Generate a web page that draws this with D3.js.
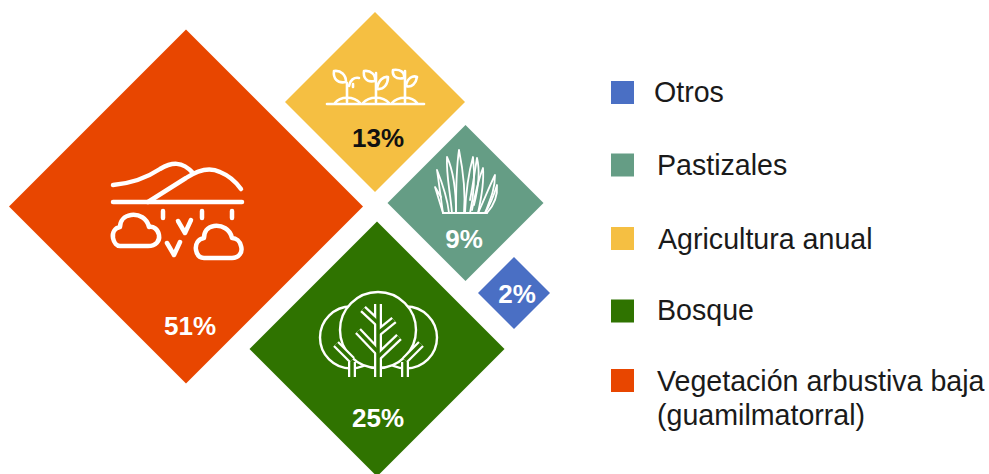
<!DOCTYPE html>
<html><head><meta charset="utf-8">
<script src="https://cdnjs.cloudflare.com/ajax/libs/d3/7.8.5/d3.min.js"></script>
<style>html,body{margin:0;padding:0;background:#fff}svg{display:block}text{font-family:"Liberation Sans",Arial,sans-serif}</style>
</head><body><svg id="c" width="989" height="474"></svg>
<script>
// DATA
const categories = ["Otros","Pastizales","Agricultura anual","Bosque","Vegetación arbustiva baja\n(guamilmatorral)"];
const values = [2,9,13,25,51];
const colors = ["#4A6FC4","#659D85","#F5BF42","#2F7300","#E84600"];
const labelColors = ["#fff","#fff","#111","#fff","#fff"];

// LAYOUT (arrangement units, 0-1 of the page, then mapped with scales)
const W=989,H=474;
const xPos = d3.scaleLinear().domain([0,1]).range([0,W]);
const yPos = d3.scaleLinear().domain([0,1]).range([0,H]);
const cxU = [514/W,465.5/W,375/W,377/W,186/W];
const cyU = [293/H,203/H,102/H,349/H,206.5/H];
const lxU = [517/W,464/W,378/W,378/W,190/W];
const lyU = [303/H,248/H,147/H,427/H,335/H];
const size = d3.scaleSqrt().domain([2,9,13,25,51]).range([36,78,90,127.5,177]);
const svg = d3.select("#c");

// Diamonds
svg.append("g").selectAll("path").data(values).join("path")
  .attr("d",(v,i)=>{const c=xPos(cxU[i]),m=yPos(cyU[i]),r=size(v);return d3.line()([[c,m-r],[c+r,m],[c,m+r],[c-r,m]])+"Z";})
  .attr("fill",(v,i)=>colors[i]);

// Icons (decorative white line art)
const icons = svg.append("g").attr("fill","none").attr("stroke","#fff").attr("stroke-linecap","round").attr("stroke-linejoin","round");
// Mountains & clouds
const m = icons.append("g").attr("stroke-width",4.5);
["M113,185C135,183 148,177 160,169C172,162 182,161 193,173",
 "M148,202L186,178C198,170 210,167 220,172C230,176 236,182 241,189",
 "M113,202H242","M163,211V218","M202,211V218","M232,211V218",
 "M178,221L185,233L191,220","M167,243L174,255L180,242",
 "M120,246H148C156,246 160,241 159,235C158,229 153,226 149,227C147,218 139,214 131,215C124,216 120,221 120,227C115,228 112,232 113,238C114,243 117,246 120,246Z",
 "M204,258H232C239,258 243,252 241,246C240,241 236,238 232,238C230,229 222,225 214,226C207,227 204,232 204,238C198,239 195,244 196,250C197,255 200,258 204,258Z"
].forEach(d=>m.append("path").attr("d",d));
// Sprouts
const s = icons.append("g").attr("stroke-width",2.6);
["M327,104H424",
 "M335,103C340,96 354,96 360,103","M363,103C369,96 383,96 389,103","M392,103C398,96 412,96 417,103",
 "M347,102V83","M376,102V73","M405,102V71",
 "M346,82C337,84 333,78 334,71C341,70 346,75 346,82Z",
 "M349,86C350,80 354,77 359,78","M353,84L353,87",
 "M375,81C366,83 363,77 364,71C371,70 376,75 375,81Z","M377,89C378,80 384,76 388,77C388,84 384,90 377,89Z",
 "M404,78C395,80 392,75 393,70C400,69 405,72 404,78Z","M406,86C407,78 413,75 417,77C416,83 412,88 406,86Z"
].forEach(d=>s.append("path").attr("d",d));
// Grass
const g = icons.append("g").attr("stroke-width",1.8);
["M443,213H487","M443,213L435,187L441,197","M443,213L437,170C441,180 447,195 449,213",
 "M452,213C450,190 446,175 447,157C453,170 456,190 456,213",
 "M456,213C456,190 456,170 459,150C463,170 466,190 464,213",
 "M465,213C466,190 468,175 473,157C475,175 474,195 470,213",
 "M470,200C473,185 475,170 477,158C480,170 479,185 474,205",
 "M472,210C476,190 479,178 483,168C484,180 482,195 478,213",
 "M478,213C484,200 490,185 495,175C495,190 490,200 485,213",
 "M485,213C490,205 494,195 497,185C498,197 494,205 487,213"
].forEach(d=>g.append("path").attr("d",d));
// Trees
const t = svg.append("g").attr("fill","none").attr("stroke-linejoin","round");
const green = colors[3];
[[351,337.5,31],[406,337.5,31],[378,330,38]].forEach(([x,y,r])=>{
  t.append("circle").attr("cx",x).attr("cy",y).attr("r",r).attr("stroke","#fff").attr("stroke-width",2.4).attr("fill",green);
});
const trunks = ["M378,304V377","M363,309L378,323","M394,320L378,333","M358,331L378,352","M399,337L378,357",
 "M352,362V377","M336,344L352,360","M405,362V377","M421,344L405,360"];
trunks.forEach(d=>t.append("path").attr("d",d).attr("stroke","#fff").attr("stroke-width",8));
trunks.forEach(d=>t.append("path").attr("d",d).attr("stroke",green).attr("stroke-width",3.5));

// Percent labels
svg.append("g").selectAll("text").data(values).join("text")
  .attr("x",(v,i)=>xPos(lxU[i])).attr("y",(v,i)=>yPos(lyU[i]))
  .attr("text-anchor","middle").attr("font-weight",700).attr("font-size",26)
  .attr("fill",(v,i)=>labelColors[i]).text(v=>v+"%");

// Legend
const swY = [81,153.5,227,299.5,369];
const txX = [654,657,658,657,657];
const txY = [102,175,249,320,391];
const lg = svg.append("g");
lg.selectAll("rect").data(categories).join("rect")
  .attr("x",611).attr("y",(c,i)=>swY[i]).attr("width",23).attr("height",23)
  .attr("fill",(c,i)=>colors[i]);
lg.selectAll("text").data(categories).join("text")
  .attr("font-size",28.6).attr("fill","#1a1a1a")
  .each(function(c,i){
    c.split("\n").forEach((ln,j)=>{
      d3.select(this).append("tspan").attr("x",txX[i]).attr("y",txY[i]+j*34).text(ln);
    });
  });
</script></body></html>
